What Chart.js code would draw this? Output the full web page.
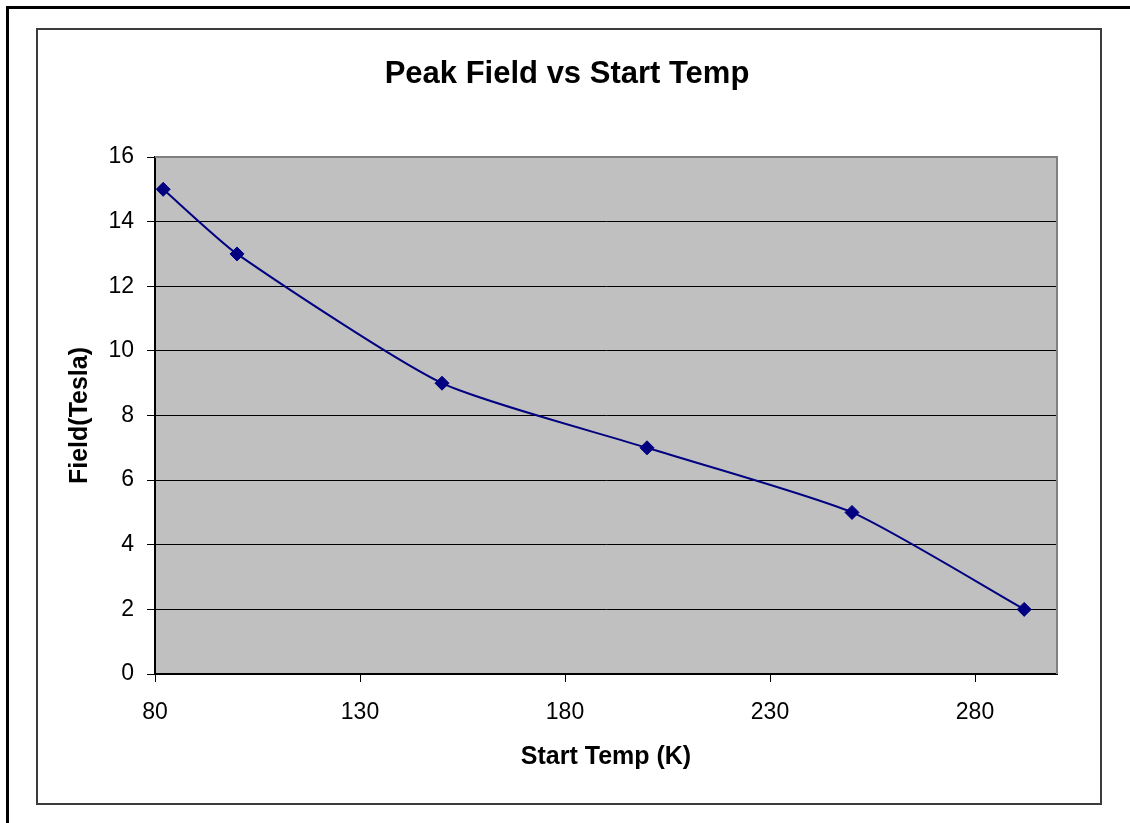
<!DOCTYPE html>
<html>
<head>
<meta charset="utf-8">
<script src="https://cdn.jsdelivr.net/npm/chart.js@4.4.1/dist/chart.umd.min.js"></script>
<style>
  html, body { margin: 0; padding: 0; background: #fff; overflow: hidden; }
  #page { position: relative; width: 1130px; height: 823px; overflow: hidden; }
  #outer { position: absolute; left: 6px; top: 6px; width: 1200px; height: 900px; border: 3px solid #000; }
  #inner { position: absolute; left: 36px; top: 28px; width: 1066px; height: 777px; box-sizing: border-box; border: 2px solid #3c3c3c; }
  canvas { position: absolute; left: 0; top: 0; }
</style>
</head>
<body>
<div id="page">
  <div id="outer"></div>
  <div id="inner"></div>
  <canvas id="chart" width="1130" height="823"></canvas>
</div>
<script>
const startTemps = [82, 100, 150, 200, 250, 292]
const peakFields = [15, 13, 9, 7, 5, 2]
const xTickValues = [80, 130, 180, 230, 280]

const chartTitle = 'Peak Field vs Start Temp'
const xTitle = 'Start Temp (K)'
const yTitle = 'Field(Tesla)'

const FONT = 'Arial, "Liberation Sans", sans-serif'

// plot background, gray frame and the text titles
const excelLook = {
  id: 'excelLook',
  beforeDraw(chart) {
    const { ctx, chartArea: a } = chart
    ctx.save()
    ctx.fillStyle = '#c0c0c0'
    ctx.fillRect(a.left, a.top, a.right - a.left, a.bottom - a.top)
    ctx.restore()
  },
  beforeDatasetsDraw(chart) {
    const { ctx, chartArea: a } = chart
    ctx.save()
    ctx.strokeStyle = '#808080'
    ctx.lineWidth = 2
    ctx.beginPath()
    ctx.moveTo(a.left, a.top)
    ctx.lineTo(a.right, a.top)
    ctx.lineTo(a.right, a.bottom)
    ctx.stroke()
    ctx.restore()
  },
  afterDraw(chart) {
    const { ctx, chartArea: a } = chart
    ctx.save()
    ctx.fillStyle = '#000'
    ctx.textAlign = 'center'
    ctx.textBaseline = 'middle'
    ctx.font = 'bold 31px ' + FONT
    ctx.fillText(chartTitle, 567, 74)
    ctx.font = 'bold 25px ' + FONT
    ctx.fillText(xTitle, (a.left + a.right) / 2, 757)
    ctx.translate(80, (a.top + a.bottom) / 2)
    ctx.rotate(-Math.PI / 2)
    ctx.fillText(yTitle, 0, 0)
    ctx.restore()
  },
}

new Chart(document.getElementById('chart'), {
  type: 'scatter',
  data: {
    datasets: [
      {
        data: startTemps.map((t, i) => ({ x: t, y: peakFields[i] })),
        showLine: true,
        tension: 0.2,
        borderColor: '#000080',
        borderWidth: 2,
        pointStyle: 'rectRot',
        pointRadius: 7,
        pointBackgroundColor: '#000080',
        pointBorderColor: '#000080',
        pointBorderWidth: 1,
      },
    ],
  },
  options: {
    responsive: false,
    animation: false,
    layout: { padding: { left: 0, right: 73, top: 157, bottom: 0 } },
    plugins: {
      legend: { display: false },
      tooltip: { enabled: false },
      title: { display: false },
    },
    scales: {
      x: {
        type: 'linear',
        min: 80,
        max: 300,
        afterBuildTicks: (scale) => {
          scale.ticks = xTickValues.map((v) => ({ value: v }))
        },
        afterFit: (scale) => {
          scale.height = 149
        },
        grid: { drawOnChartArea: false, tickLength: 8, color: '#000' },
        border: { color: '#000', width: 2 },
        ticks: {
          color: '#000',
          padding: 17,
          maxRotation: 0,
          font: { family: FONT, size: 23 },
        },
      },
      y: {
        min: 0,
        max: 16,
        afterFit: (scale) => {
          scale.width = 155
        },
        grid: { color: '#000', tickLength: 8 },
        border: { color: '#000', width: 2 },
        ticks: {
          stepSize: 2,
          color: '#000',
          padding: 13,
          font: { family: FONT, size: 23 },
        },
      },
    },
  },
  plugins: [excelLook],
})
</script>
</body>
</html>
